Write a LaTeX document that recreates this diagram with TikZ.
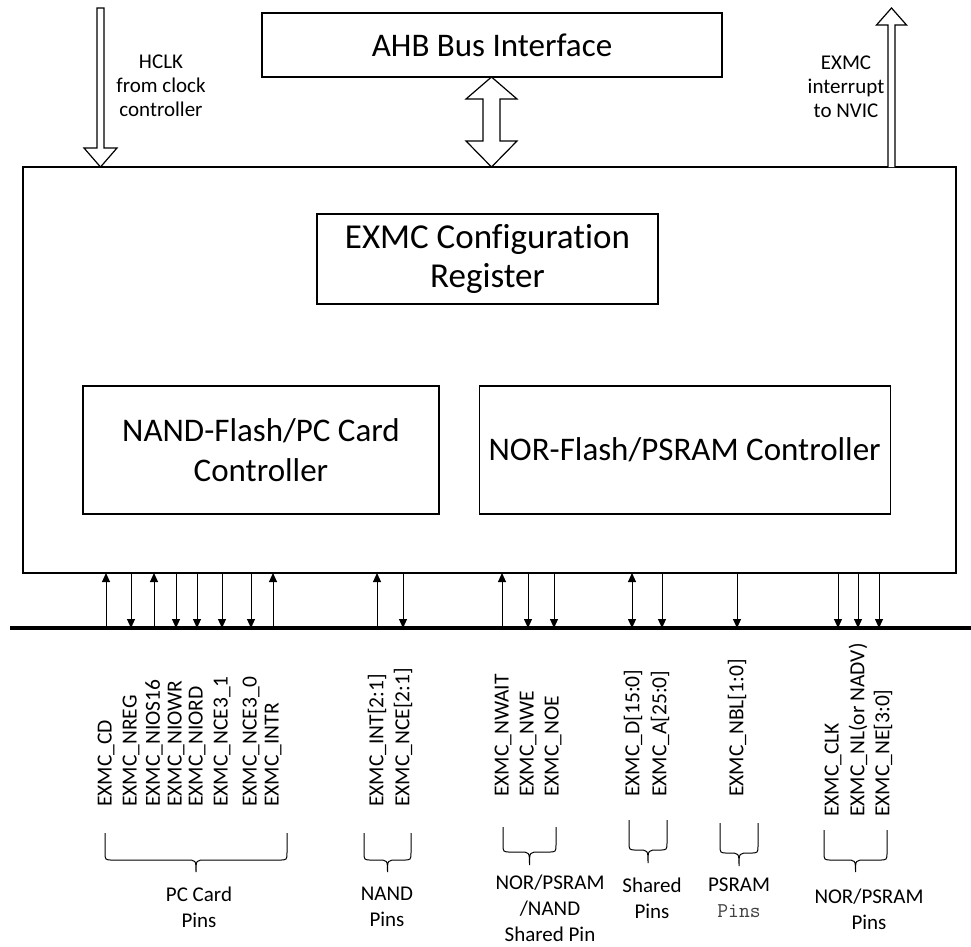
\documentclass[tikz,border=0pt]{standalone}
\usepackage{fontspec}
\setmainfont{Carlito}[Ligatures=NoCommon]
\usetikzlibrary{arrows.meta,positioning}
\tikzset{
  block/.style={draw,line width=1.2pt,align=center,inner sep=0pt,
    font=\fontsize{33}{40}\selectfont},
  hollow/.style={draw,line width=1.2pt,fill=white,line join=miter},
  sidetext/.style={align=center,inner sep=0pt,font=\fontsize{21}{24}\selectfont},
  pinlabel/.style={rotate=90,anchor=west,inner sep=0pt,font=\fontsize{21.5}{24}\selectfont},
  grouplabel/.style={align=center,inner sep=0pt,font=\fontsize{21}{26}\selectfont},
  pinup/.style={{Triangle[length=9pt,width=8pt]}-,line width=1pt},
  pindown/.style={-{Triangle[length=9pt,width=8pt]},line width=1pt},
  pinboth/.style={{Triangle[length=9pt,width=8pt]}-{Triangle[length=9pt,width=8pt]},line width=1pt},
  bus/.style={line width=4pt},
  bracepath/.style={line width=1pt}
}
% curly brace under a pin group: left x, right x, top y, flat y, tip y
\newcommand{\pinbrace}[5]{%
  \draw[bracepath] (#1,#3) -- (#1,{#4-8}) .. controls (#1,#4) .. ({#1+8},#4)
    -- ({(#1+#2)/2-10},#4) .. controls ({(#1+#2)/2},#4) .. ({(#1+#2)/2},#5)
    .. controls ({(#1+#2)/2},#4) .. ({(#1+#2)/2+10},#4)
    -- ({#2-8},#4) .. controls (#2,#4) .. (#2,{#4-8}) -- (#2,#3);}

\begin{document}
\begin{tikzpicture}[x=1pt,y=-1pt]
  \useasboundingbox (0,0) rectangle (971,946);
  % main blocks
  \node[draw,line width=1.2pt,minimum width=933pt,minimum height=406pt,inner sep=0pt] (exmc) at (489.5,370) {};
  \node[block,minimum width=460pt,minimum height=64pt] (ahb) at (492,45) {AHB Bus Interface};
  \node[block,minimum width=341pt,minimum height=90pt,font=\fontsize{35}{39}\selectfont] (cfg) at (487.5,259) {EXMC Configuration\\Register};
  \node[block,minimum width=356pt,minimum height=128pt] (nand) at (261,450) {NAND-Flash/PC Card\\Controller};
  \node[block,minimum width=411pt,minimum height=128pt,right=39pt of nand] (nor) {NOR-Flash/PSRAM Controller};

  % hollow arrows
  \draw[hollow] (97,8) -- (104,8) -- (104,148) -- (117,148) -- (100.5,167)
    -- (84,148) -- (97,148) -- cycle;
  \draw[hollow] (888,167) -- (888,25) -- (876.5,25) -- (891.5,8) -- (906.5,25)
    -- (895,25) -- (895,167);
  \draw[hollow] (491.5,77) -- (517,99) -- (500,99) -- (500,141) -- (517,141)
    -- (491.5,167) -- (466,141) -- (483,141) -- (483,99) -- (466,99) -- cycle;
  \node[sidetext] (hclk) at (161,86) {HCLK\\from clock\\controller};
  \node[sidetext] (irq) at (846,87) {EXMC\\interrupt\\to NVIC};

  % pins
  \foreach \x/\lx/\dir/\lbl/\ly in {
    106/106/pinup/EXMC\_CD/807, 131/131/pindown/EXMC\_NREG/807,
    154/154/pinup/EXMC\_NIOS16/807, 176/176/pindown/EXMC\_NIOWR/807,
    197/197/pindown/EXMC\_NIORD/807, 222/222/pindown/EXMC\_NCE3\_1/807,
    251/251/pindown/EXMC\_NCE3\_0/807, 273/273/pinup/EXMC\_INTR/807,
    377/377/pinup/EXMC\_INT[2:1]/807, 403/403/pindown/EXMC\_NCE[2:1]/807,
    502/503/pinup/EXMC\_NWAIT/797, 528/528/pindown/EXMC\_NWE/797,
    554/553/pindown/EXMC\_NOE/797, 632/633/pinboth/EXMC\_D[15:0]/797,
    662/660/pindown/EXMC\_A[25:0]/797, 737/737/pindown/EXMC\_NBL[1:0]/797,
    838/833/pindown/EXMC\_CLK/817, 858/858/pindown/EXMC\_NL(or NADV)/817,
    879/883/pindown/EXMC\_NE[3:0]/817}
  {
    \coordinate (top\x) at (\x,573);
    \coordinate (bot\x) at (\x,628);
    \draw[\dir] (top\x) -- (bot\x);
    \node[pinlabel] (lbl\x) at (\lx,\ly) {\lbl};
  }
  \coordinate (busL) at (10,628);
  \coordinate (busR) at (971,628);
  \draw[bus] (busL) -- (busR);

  % pin groups
  \pinbrace{105}{287}{833}{860}{872}
  \pinbrace{364}{411}{833}{860}{872}
  \pinbrace{503}{556}{827}{852}{865}
  \pinbrace{629}{667}{820}{850}{863}
  \pinbrace{720}{758}{823}{853}{866}
  \pinbrace{824}{887}{830}{860}{872}
  \node[grouplabel] (pcpins) at (199,907) {PC Card\\Pins};
  \node[grouplabel] (nandpins) at (387,907) {NAND\\Pins};
  \node[grouplabel] (sharedpin) at (550,908) {NOR/PSRAM\\/NAND\\Shared Pin};
  \node[grouplabel] (sharedpins) at (652,898) {Shared\\Pins};
  \node[grouplabel] (psrampins) at (739,898) {PSRAM\\{\ttfamily\color{black!75}Pins}};
  \node[grouplabel] (norpins) at (869,909) {NOR/PSRAM\\Pins};
\end{tikzpicture}
\end{document}
